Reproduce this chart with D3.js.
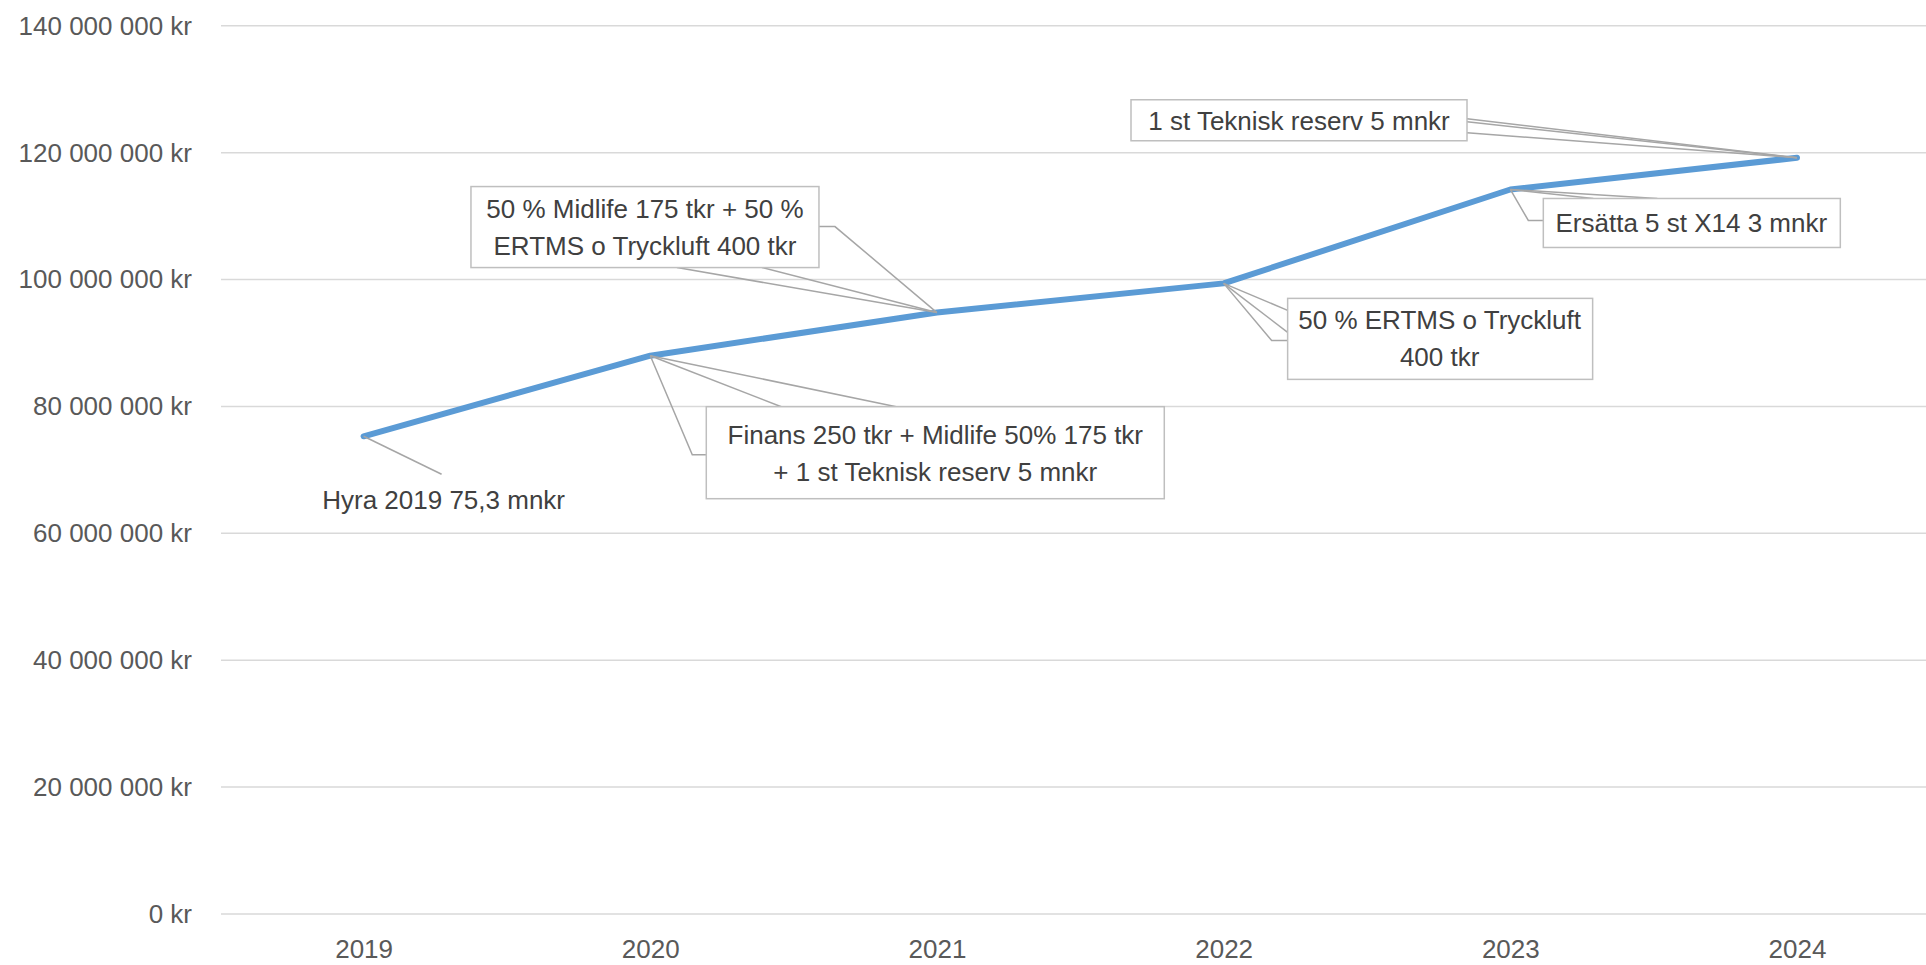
<!DOCTYPE html>
<html>
<head>
<meta charset="utf-8">
<script src="https://cdnjs.cloudflare.com/ajax/libs/d3/7.8.5/d3.min.js"></script>
<style>
  html, body { margin: 0; padding: 0; background: #fff; }
  svg text { font-family: "Liberation Sans", Arial, sans-serif; }
</style>
</head>
<body>
<div id="chart"></div>
<script>
'use strict';

/**** Data ****/
var years = ['2019', '2020', '2021', '2022', '2023', '2024'];
var costs = [75300000, 88000000, 94800000, 99400000, 114200000, 119200000];
var yTicks = [0, 20000000, 40000000, 60000000, 80000000, 100000000, 120000000, 140000000];
var labelLines = [
    ['Hyra 2019 75,3 mnkr'],
    ['Finans 250 tkr + Midlife 50% 175 tkr', '+ 1 st Teknisk reserv 5 mnkr'],
    ['50 % Midlife 175 tkr + 50 %', 'ERTMS o Tryckluft 400 tkr'],
    ['50 % ERTMS o Tryckluft', '400 tkr'],
    ['Ersätta 5 st X14 3 mnkr'],
    ['1 st Teknisk reserv 5 mnkr']
];

/**** Callout layout (offsets from the data point, px) ****/
// box: [x0, y0, x1, y1], leaders: list of polylines, text: [cx, cy of first line]
var callouts = [
    { box: null, leaders: [[[78, 38]]], text: [80, 64] },
    { box: [56, 51, 514, 143],
      leaders: [[[131, 51]], [[246, 51]], [[42, 99], [56, 99]]], text: [285, 79] },
    { box: [-466, -126, -118, -45],
      leaders: [[[-102, -86], [-118, -86]], [[-260, -45]], [[-175, -45]]], text: [-292, -104] },
    { box: [64, 15, 369, 96],
      leaders: [[[64, 27]], [[64, 49]], [[48, 57], [64, 57]]], text: [216, 37] },
    { box: [33, 9, 330, 58],
      leaders: [[[83, 9]], [[147, 9]], [[18, 31], [33, 31]]], text: [181, 33] },
    { box: [-666, -58, -330, -17],
      leaders: [[[-330, -39]], [[-330, -36]], [[-330, -25]]], text: [-498, -37] }
];

var width = 1926, height = 965;
var svg = d3.select('#chart').append('svg')
    .attr('width', width)
    .attr('height', height);

//Scales
var x = d3.scalePoint().domain(years).range([363.6, 1797]);
var y = d3.scaleLinear().domain([0, 140000000]).range([914, 25.8]);

//Gridlines
var gridGroup = svg.append('g').attr('id', 'gridGroup');
gridGroup.selectAll('line')
    .data(yTicks)
    .enter()
    .append('line')
    .attr('x1', 221)
    .attr('x2', width)
    .attr('y1', function(d) { return y(d); })
    .attr('y2', function(d) { return y(d); })
    .attr('stroke', '#d9d9d9')
    .attr('stroke-width', 1.5);

//Y axis labels
var fmt = function(d) {
    return d3.format(',')(d).replace(/,/g, '\u00a0') + ' kr';
};
var yAxis = d3.axisLeft(y).tickValues(yTicks).tickFormat(fmt).tickSize(0).tickPadding(0);
var yAxisGroup = svg.append('g').attr('transform', 'translate(192,0)').call(yAxis);
yAxisGroup.select('.domain').remove();
yAxisGroup.selectAll('text')
    .attr('fill', '#595959')
    .style('font-size', '26px')
    .style('font-family', '"Liberation Sans", Arial, sans-serif');

//X axis labels
var xAxis = d3.axisBottom(x).tickSize(0).tickPadding(0);
var xAxisGroup = svg.append('g').attr('transform', 'translate(0,940)').call(xAxis);
xAxisGroup.select('.domain').remove();
xAxisGroup.selectAll('text')
    .attr('fill', '#595959')
    .style('font-size', '26px')
    .style('font-family', '"Liberation Sans", Arial, sans-serif');

//Cost line
var line = d3.line()
    .x(function(d, i) { return x(years[i]); })
    .y(function(d) { return y(d); });
svg.append('path')
    .datum(costs)
    .attr('d', line)
    .attr('fill', 'none')
    .attr('stroke', '#5b9bd5')
    .attr('stroke-width', 6)
    .attr('stroke-linejoin', 'round')
    .attr('stroke-linecap', 'round');

//Callouts
var calloutGroup = svg.append('g').attr('id', 'calloutGroup');
costs.forEach(function(v, i) {
    var px = x(years[i]), py = y(v);
    var c = callouts[i];
    var g = calloutGroup.append('g').attr('transform', 'translate(' + px + ',' + py + ')');

    c.leaders.forEach(function(pts) {
        g.append('polyline')
            .attr('points', [[0, 0]].concat(pts).map(function(p) { return p.join(','); }).join(' '))
            .attr('fill', 'none')
            .attr('stroke', '#a6a6a6')
            .attr('stroke-width', 1.5);
    });

    if (c.box) {
        g.append('rect')
            .attr('x', c.box[0])
            .attr('y', c.box[1])
            .attr('width', c.box[2] - c.box[0])
            .attr('height', c.box[3] - c.box[1])
            .attr('fill', '#fff')
            .attr('stroke', '#bfbfbf')
            .attr('stroke-width', 1.5);
    }

    g.selectAll('text.lbl')
        .data(labelLines[i])
        .enter()
        .append('text')
        .attr('class', 'lbl')
        .attr('x', c.text[0])
        .attr('y', function(d, j) { return c.text[1] + j * 37; })
        .attr('dy', '0.35em')
        .attr('text-anchor', 'middle')
        .attr('fill', '#404040')
        .style('font-size', '26px')
        .text(function(d) { return d; });
});
</script>
</body>
</html>
